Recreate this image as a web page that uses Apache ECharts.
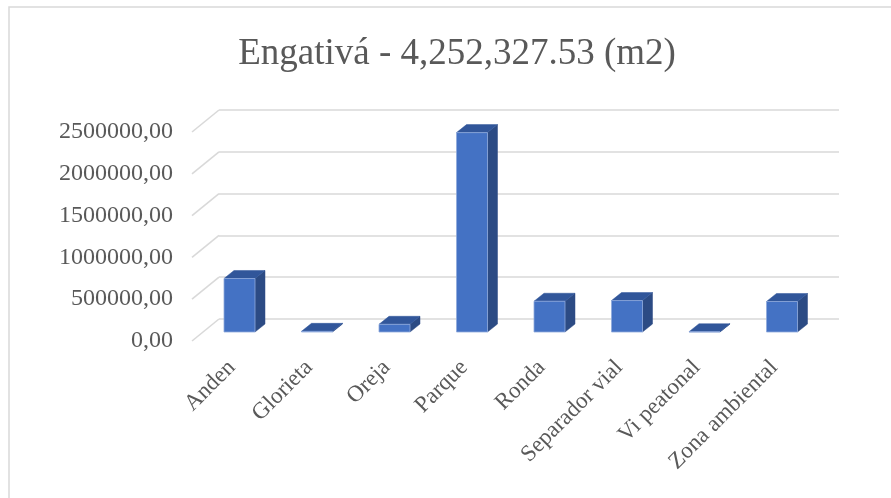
<!DOCTYPE html>
<html>
<head>
<meta charset="utf-8">
<script src="https://cdn.jsdelivr.net/npm/echarts@6/dist/echarts.min.js"></script>
<style>
html,body{margin:0;padding:0;background:#fff;}
#chart{width:891px;height:498px;}
</style>
</head>
<body>
<div id="chart"></div>
<script>
const categories = ['Anden', 'Glorieta', 'Oreja', 'Parque', 'Ronda', 'Separador vial', 'Vi peatonal', 'Zona ambiental'];
const areas = [640000, 8000, 92000, 2385000, 368000, 376000, 3000, 365000];
const yTickValues = [0, 500000, 1000000, 1500000, 2000000, 2500000];
const titleText = 'Engativá - 4,252,327.53 (m2)';

const FONT = 'Liberation Serif, Times New Roman, serif';
const TXT = '#595959';
const GRIDC = '#d9d9d9';

const chart = echarts.init(document.getElementById('chart'), null, {renderer: 'canvas'});

// offsets of the 3D look (pixels)
const DEPTH_WALL = [-27, 22];   // back wall -> front label plane
const BAR_SHIFT = [-18.25, 13]; // back wall -> bar front face
const BAR_DEPTH = [10, -8];     // bar front -> bar back

function renderBar(params, api) {
  const i = api.value(0);
  const v = api.value(1);
  const top = api.coord([i, v]);
  const base = api.coord([i, 0]);
  const band = api.size([1, 0])[0];
  const hw = band * 0.2;
  const cx = top[0] + BAR_SHIFT[0];
  const yt = top[1] + BAR_SHIFT[1];
  const yb = base[1] + BAR_SHIFT[1];
  const x0 = cx - hw, x1 = cx + hw;
  const dx = BAR_DEPTH[0], dy = BAR_DEPTH[1];
  return {
    type: 'group',
    children: [
      { type: 'polygon', shape: { points: [[x1, yb], [x1 + dx, yb + dy], [x1 + dx, yt + dy], [x1, yt]] },
        style: { fill: '#2c4b84', stroke: '#2c4b84', lineWidth: 0.5 } },
      { type: 'polygon', shape: { points: [[x0, yt], [x1, yt], [x1 + dx, yt + dy], [x0 + dx, yt + dy]] },
        style: { fill: '#31569a', stroke: '#31569a', lineWidth: 0.5 } },
      { type: 'rect', shape: { x: x0, y: yt, width: x1 - x0, height: Math.max(0, yb - yt) },
        style: { fill: '#4472c4', stroke: '#8fa9dc', lineWidth: 0.8 } }
    ]
  };
}

function renderDiag(params, api) {
  const v = api.value(1);
  const p = api.coord([0, v]);
  const band = api.size([1, 0])[0];
  const xl = p[0] - band / 2;
  return {
    type: 'line',
    shape: { x1: xl, y1: p[1], x2: xl + DEPTH_WALL[0], y2: p[1] + DEPTH_WALL[1] },
    style: { stroke: GRIDC, lineWidth: 1.6 }
  };
}

const option = {
  animation: false,
  backgroundColor: '#ffffff',
  title: {
    text: titleText,
    left: 452,
    textAlign: 'center',
    top: 31,
    textStyle: { fontFamily: FONT, fontSize: 37, fontWeight: 'normal', color: TXT }
  },
  graphic: [
    { type: 'rect', shape: { x: 9, y: 7, width: 900, height: 520 },
      style: { fill: 'none', stroke: GRIDC, lineWidth: 1.5 }, silent: true, z: -1 }
  ],
  grid: [
    { left: 219, right: 52, top: 110, bottom: 179 },  // back wall
    { left: 192, right: 79, top: 132, bottom: 157 },  // front plane (y labels)
    { left: 193, right: 78, top: 100, bottom: 141 }   // x labels
  ],
  xAxis: [
    { gridIndex: 0, type: 'category', data: categories, show: true,
      axisLine: { show: false }, axisTick: { show: false }, axisLabel: { show: false }, splitLine: { show: false } },
    { gridIndex: 1, type: 'category', data: categories, show: false },
    { gridIndex: 2, type: 'category', data: categories,
      axisLine: { show: false }, axisTick: { show: false },
      axisLabel: { interval: 0, rotate: 45, margin: 7, fontFamily: FONT, fontSize: 23, color: TXT } }
  ],
  yAxis: [
    { gridIndex: 0, type: 'value', min: 0, max: 2500000, interval: 500000,
      axisLine: { show: false }, axisTick: { show: false }, axisLabel: { show: false },
      splitLine: { show: true, lineStyle: { color: GRIDC, width: 1.6 } } },
    { gridIndex: 1, type: 'value', min: 0, max: 2500000, interval: 500000,
      axisLine: { show: false }, axisTick: { show: false }, splitLine: { show: false },
      axisLabel: { margin: 19, fontFamily: FONT, fontSize: 24, color: TXT,
        formatter: v => v.toFixed(2).replace('.', ',') } },
    { gridIndex: 2, type: 'value', show: false, min: 0, max: 1 }
  ],
  series: [
    { type: 'custom', xAxisIndex: 0, yAxisIndex: 0, renderItem: renderDiag,
      data: yTickValues.map(v => [0, v]), encode: { x: 0, y: 1 }, silent: true, z: 1 },
    { type: 'custom', xAxisIndex: 0, yAxisIndex: 0, renderItem: renderBar,
      data: areas.map((v, i) => [i, v]), encode: { x: 0, y: 1 }, z: 3 }
  ]
};
chart.setOption(option);
</script>
</body>
</html>
